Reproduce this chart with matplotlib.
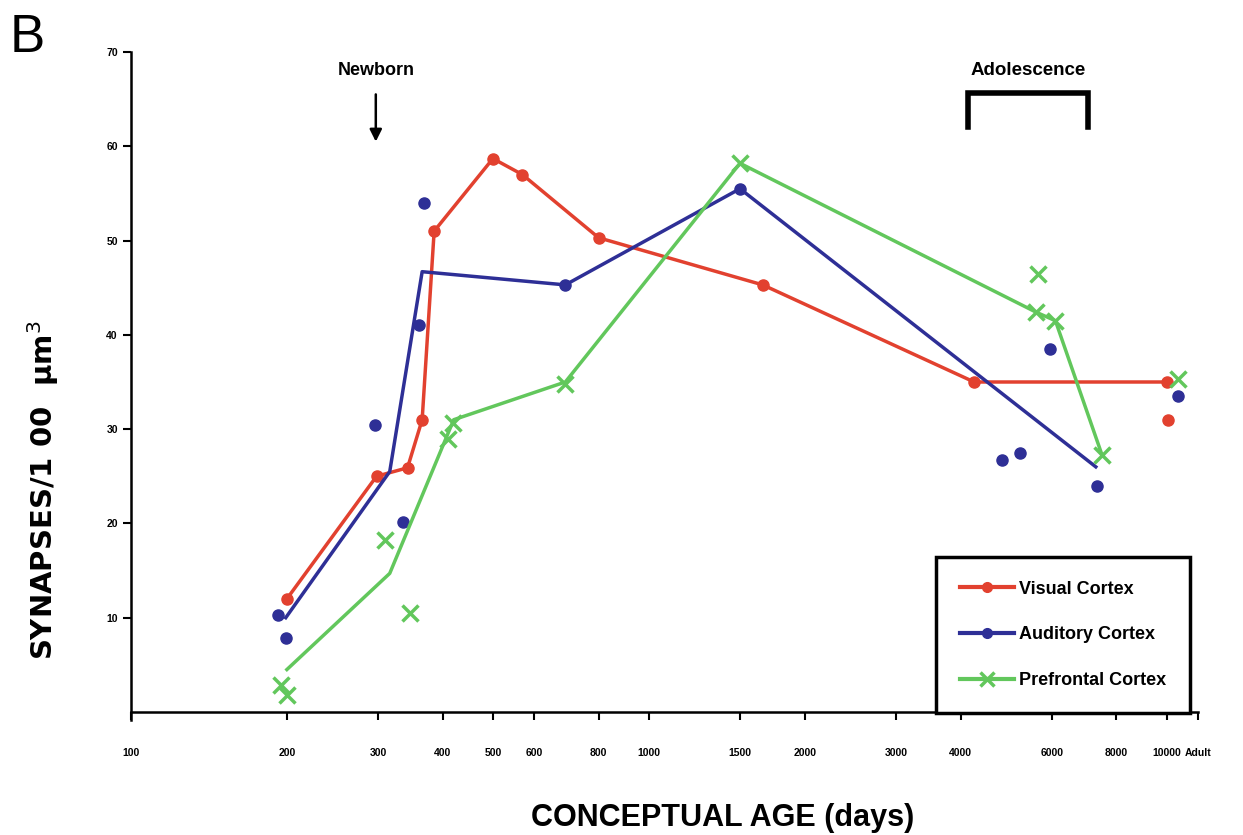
import numpy as np
import matplotlib.pyplot as plt

plt.rcParams['font.family'] = ['Liberation Sans', 'DejaVu Sans']

# conceptual age (days) and synapses per 100 um^3
visual_line_x = [200, 298, 342, 365, 385, 500, 570, 800, 1660, 4250, 10000]
visual_line_y = [12, 25, 25.9, 31, 51, 58.7, 57, 50.3, 45.3, 35, 35]
visual_pts_x = [200, 298, 342, 365, 385, 500, 570, 800, 1660, 4250, 10000, 10050]
visual_pts_y = [12, 25, 25.9, 31, 51, 58.7, 57, 50.3, 45.3, 35, 35, 31]

auditory_line_x = [199, 316, 365, 690, 1500, 7300]
auditory_line_y = [10, 25.5, 46.7, 45.3, 55.5, 26]
auditory_pts_x = [192, 199, 296, 335, 360, 368, 690, 1500, 4800, 5200, 5950, 7350, 10500]
auditory_pts_y = [10.3, 7.8, 30.4, 20.1, 41, 54, 45.3, 55.5, 26.7, 27.5, 38.5, 24, 33.5]

prefrontal_line_x = [200, 316, 420, 690, 1500, 5600, 6100, 7500]
prefrontal_line_y = [4.5, 14.7, 31, 35, 58.2, 42.4, 41.5, 27.3]
prefrontal_pts_x = [195, 200, 309, 346, 409, 419, 690, 1500, 5650, 5600, 6100, 7500, 10500]
prefrontal_pts_y = [2.9, 1.8, 18.2, 10.5, 29, 30.6, 34.8, 58.2, 46.5, 42.4, 41.5, 27.3, 35.3]

x_ticks = [100, 200, 300, 400, 500, 600, 800, 1000, 1500, 2000, 3000, 4000, 6000, 8000, 10000, 11500]
x_labels = ['100', '200', '300', '400', '500', '600', '800', '1000', '1500', '2000', '3000', '4000',
            '6000', '8000', '10000', 'Adult']
y_ticks = [10, 20, 30, 40, 50, 60, 70]

red = '#e2412f'
blue = '#2e2f96'
green = '#62c75c'

fig = plt.figure(figsize=(12.43, 8.35), dpi=100)
ax = fig.add_axes([0.1054, 0.1383, 0.8584, 0.7994])

ax.plot(visual_line_x, visual_line_y, color=red, lw=2.5)
ax.plot(visual_pts_x, visual_pts_y, 'o', color=red, ms=8, ls='none')
ax.plot(auditory_line_x, auditory_line_y, color=blue, lw=2.5)
ax.plot(auditory_pts_x, auditory_pts_y, 'o', color=blue, ms=8, ls='none')
ax.plot(prefrontal_line_x, prefrontal_line_y, color=green, lw=2.5)
ax.plot(prefrontal_pts_x, prefrontal_pts_y, 'x', color=green, ms=11, mew=2.5, ls='none')

ax.set_xscale('log')
ax.set_xlim(100, 11500)
ax.set_ylim(-0.8, 70)
ax.spines['bottom'].set_position(('data', 0))
ax.set_xticks(x_ticks)
ax.set_xticklabels(x_labels)
ax.minorticks_off()
ax.set_yticks(y_ticks)
ax.tick_params(axis='both', labelsize=7.5, width=1.5, length=6, direction='out')
for lab in ax.get_xticklabels() + ax.get_yticklabels():
    lab.set_fontweight('bold')
ax.tick_params(axis='x', pad=20)
ax.spines['top'].set_visible(False)
ax.spines['right'].set_visible(False)
ax.spines['left'].set_linewidth(1.8)
ax.spines['bottom'].set_linewidth(1.8)

ax.set_xlabel('CONCEPTUAL AGE (days)', fontsize=22, fontweight='bold')
ax.xaxis.set_label_coords(0.554, -0.125)
ax.set_ylabel('SYNAPSES/1 00  \u03bcm$^{3}$', fontsize=21, fontweight='bold', family='DejaVu Sans')
ax.yaxis.set_label_coords(-0.066, 0.344)

# newborn arrow
ax.annotate('', xy=(297, 60.2), xytext=(297, 65.8),
            arrowprops=dict(arrowstyle='-|>', color='black', lw=1.8, mutation_scale=18))
ax.text(297, 68.0, 'Newborn', ha='center', va='center', fontsize=13, fontweight='bold')

# adolescence bracket
ax.plot([4140, 4140, 7040, 7040], [62, 65.7, 65.7, 62], color='black', lw=4, solid_joinstyle='miter')
ax.text(5400, 68.0, 'Adolescence', ha='center', va='center', fontsize=13.5, fontweight='bold')

# legend
h1, = ax.plot([], [], '-o', color=red, lw=3, ms=7)
h2, = ax.plot([], [], '-o', color=blue, lw=3, ms=7)
h3, = ax.plot([], [], '-x', color=green, lw=3, ms=10, mew=2.5)
leg = ax.legend([h1, h2, h3], ['Visual Cortex', 'Auditory Cortex', 'Prefrontal Cortex'],
                loc='lower right', bbox_to_anchor=(0.9925, 0.01), borderaxespad=0,
                fancybox=False, framealpha=1, edgecolor='black', handlelength=3.0,
                labelspacing=1.6, borderpad=1.3, handletextpad=0.3,
                prop={'weight': 'bold', 'size': 13})
leg.get_frame().set_linewidth(2.5)

fig.text(0.008, 0.985, 'B', fontsize=38, ha='left', va='top')

fig.savefig('out.png', dpi=100)
